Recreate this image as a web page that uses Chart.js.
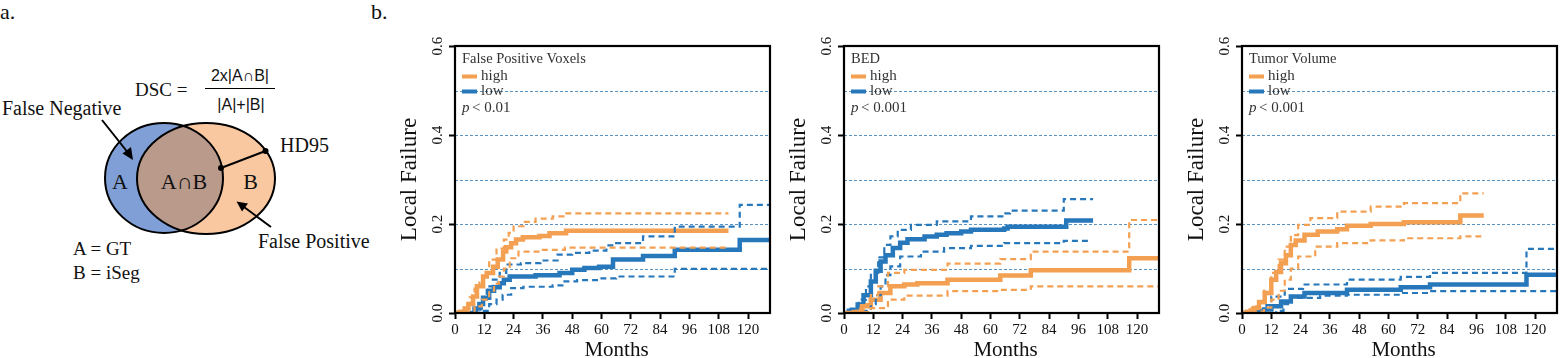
<!DOCTYPE html>
<html>
<head>
<meta charset="utf-8">
<script src="https://cdn.jsdelivr.net/npm/chart.js"></script>
<style>
  html, body { margin: 0; padding: 0; background: #fff; }
  body { width: 1560px; height: 358px; position: relative; overflow: hidden; }
  canvas { position: absolute; top: 0; }
  #venn { position: absolute; left: 0; top: 0; font-family: "Liberation Serif", serif; }
  #venn .sans { font-family: "Liberation Sans", sans-serif; }
  .lbl { position: absolute; font-family: "Liberation Serif", serif; font-size: 22px; color: #111; }
</style>
</head>
<body>
<div class="lbl" style="left:0px; top:-1px;">a.</div>
<div class="lbl" style="left:371px; top:-1px;">b.</div>

<svg id="venn" width="380" height="358" fill="#111">
  <defs>
    <clipPath id="clipA"><ellipse cx="164" cy="178" rx="59" ry="55"/></clipPath>
  </defs>
  <ellipse cx="206" cy="178.5" rx="69" ry="55.5" fill="#f9c8a0"/>
  <ellipse cx="164" cy="178" rx="59" ry="55" fill="#7f9fd6"/>
  <ellipse cx="206" cy="178.5" rx="69" ry="55.5" fill="#b99a8b" clip-path="url(#clipA)"/>
  <ellipse cx="164" cy="178" rx="59" ry="55" fill="none" stroke="#000" stroke-width="2"/>
  <ellipse cx="206" cy="178.5" rx="69" ry="55.5" fill="none" stroke="#000" stroke-width="2"/>
  <line x1="221" y1="168" x2="265.5" y2="151" stroke="#000" stroke-width="2"/>
  <circle cx="221" cy="168" r="3" fill="#000"/>
  <circle cx="265.5" cy="151" r="3" fill="#000"/>
  <line x1="102" y1="120" x2="129" y2="154" stroke="#000" stroke-width="2"/>
  <polygon points="133,160 122.5,153.5 131,147" fill="#000"/>
  <line x1="271" y1="227" x2="242" y2="205.5" stroke="#000" stroke-width="2"/>
  <polygon points="236.5,201.5 248,203.5 242,211.5" fill="#000"/>
  <text x="135" y="96" font-size="19">DSC =</text>
  <text class="sans" x="240" y="81" font-size="16" text-anchor="middle">2x|A∩B|</text>
  <line x1="205" y1="88.5" x2="275" y2="88.5" stroke="#000" stroke-width="1.2"/>
  <text class="sans" x="241" y="110" font-size="16" text-anchor="middle">|A|+|B|</text>
  <text x="2" y="115" font-size="20">False Negative</text>
  <text x="280" y="152" font-size="20">HD95</text>
  <text x="120" y="189" font-size="22" text-anchor="middle">A</text>
  <text x="184" y="189" font-size="22" text-anchor="middle">A∩B</text>
  <text x="250.5" y="189" font-size="22" text-anchor="middle">B</text>
  <text x="258" y="248" font-size="20">False Positive</text>
  <text x="73" y="255" font-size="19">A = GT</text>
  <text x="73" y="279" font-size="19">B = iSeg</text>
</svg>

<canvas id="c1"></canvas>
<canvas id="c2"></canvas>
<canvas id="c3"></canvas>

<script>
// --- Data ---

const MONTH_TICKS = [0, 12, 24, 36, 48, 60, 72, 84, 96, 108, 120];
const Y_TICKS = [0, 0.1, 0.2, 0.3, 0.4, 0.5, 0.6];
const Y_LABELED = [0, 0.2, 0.4, 0.6];
const Y_GRID = [0.1, 0.2, 0.3, 0.4, 0.5];
const GROUPS = ['high', 'low'];
const PANEL_TITLES = ['False Positive Voxels', 'BED', 'Tumor Volume'];
const P_VALUES = ['< 0.01', '< 0.001', '< 0.001'];

// [month, cumulative local failure]
const fpvHigh = [[0,0],[2,0.003],[4,0.01],[5.5,0.02],[7.4,0.037],[9,0.06],[11.5,0.082],[13,0.09],[15.6,0.104],[17.5,0.12],[19.7,0.138],[21,0.148],[23,0.157],[25,0.165],[27.8,0.17],[34.6,0.173],[38.7,0.179],[45.5,0.185],[112,0.185]];
const fpvHighUp = [[0,0],[2,0.006],[4,0.02],[6,0.035],[8,0.055],[10,0.075],[11.5,0.09],[14,0.12],[17,0.145],[20,0.165],[22,0.18],[24,0.195],[28,0.205],[33,0.212],[40,0.217],[45,0.224],[112,0.224]];
const fpvHighLo = [[0,0],[5,0.002],[8,0.015],[11,0.03],[14,0.05],[16,0.066],[18,0.082],[20,0.1],[22.4,0.123],[26,0.138],[35,0.142],[45,0.147],[112,0.147]];
const fpvLow = [[0,0],[8,0.01],[10,0.02],[11.5,0.034],[14,0.05],[16,0.058],[18.3,0.067],[20,0.075],[22.4,0.082],[33,0.085],[42.8,0.09],[48,0.097],[53,0.101],[59,0.104],[64.7,0.12],[77,0.128],[90,0.142],[116.6,0.164],[129,0.164]];
const fpvLowUp = [[0,0],[9,0.01],[11,0.03],[13,0.06],[15.5,0.075],[18.3,0.09],[21,0.109],[27,0.112],[35,0.118],[42,0.131],[48,0.135],[55,0.14],[62,0.152],[66,0.157],[77,0.172],[90,0.194],[116.6,0.243],[129,0.243]];
const fpvLowLo = [[0,0],[10,0.005],[14,0.02],[17,0.03],[19.5,0.041],[23,0.056],[28,0.059],[40,0.062],[44,0.071],[50,0.074],[60,0.078],[66,0.082],[90,0.099],[129,0.101]];

const bedHigh = [[0,0],[4,0.002],[7,0.015],[11,0.03],[15,0.045],[19,0.06],[24.7,0.064],[30,0.067],[42.4,0.075],[64,0.084],[76.5,0.096],[116.8,0.123],[129,0.123]];
const bedHighUp = [[0,0],[5,0.005],[8,0.02],[11,0.04],[14,0.06],[18,0.09],[24.7,0.097],[42.4,0.111],[64,0.121],[76.5,0.138],[116.8,0.209],[129,0.209]];
const bedHighLo = [[0,0],[8,0.002],[11,0.011],[18,0.03],[24.7,0.039],[42.4,0.049],[64,0.052],[76.5,0.06],[129,0.062]];
const bedLow = [[0,0],[2,0.005],[5.6,0.019],[8,0.04],[11,0.071],[13,0.095],[15,0.116],[17,0.13],[20,0.146],[23,0.158],[26,0.166],[33,0.172],[38,0.176],[42,0.179],[48,0.183],[52,0.187],[65.6,0.19],[67,0.194],[91,0.208],[102,0.208]];
const bedLowUp = [[0,0],[2,0.01],[6,0.03],[9,0.06],[11,0.09],[14,0.125],[16.5,0.153],[19,0.172],[22,0.187],[27.4,0.198],[38,0.206],[52,0.217],[65.6,0.224],[68,0.23],[90,0.256],[102,0.256]];
const bedLowLo = [[0,0],[8,0.005],[11,0.02],[13,0.04],[15,0.06],[17,0.085],[19,0.105],[23,0.127],[31.5,0.138],[41,0.146],[52,0.151],[65.6,0.157],[90,0.162],[100,0.162]];

const tvHigh = [[0,0],[2,0.003],[5,0.011],[7,0.025],[9.3,0.045],[12,0.075],[14,0.092],[16,0.112],[18,0.13],[20,0.153],[22,0.163],[25.6,0.176],[31,0.183],[39,0.188],[43,0.196],[52.7,0.2],[66.3,0.204],[89.4,0.219],[99,0.219]];
const tvHighUp = [[0,0],[2,0.008],[4,0.015],[6.6,0.022],[9,0.05],[12,0.09],[15,0.12],[17.5,0.149],[20,0.175],[23,0.198],[28,0.213],[39,0.228],[52.7,0.239],[66.3,0.247],[89.4,0.269],[99,0.269]];
const tvHighLo = [[0,0],[6,0.003],[9,0.012],[12,0.03],[15,0.05],[17.5,0.075],[20,0.1],[23,0.127],[30,0.149],[39,0.157],[52.7,0.163],[66.3,0.168],[89.4,0.172],[98,0.172]];
const tvLow = [[0,0],[5,0.003],[9,0.008],[12,0.015],[16,0.026],[20,0.037],[25.6,0.045],[43,0.052],[65,0.058],[77,0.064],[116.5,0.086],[129,0.086]];
const tvLowUp = [[0,0],[8,0.006],[10,0.018],[12,0.037],[17.5,0.054],[25,0.064],[43,0.075],[65,0.081],[77,0.09],[116.5,0.144],[129,0.144]];
const tvLowLo = [[0,0],[14,0.005],[17,0.02],[20,0.034],[32,0.039],[43,0.041],[65,0.045],[77,0.049],[129,0.046]];

// --- Layout / style ---

const FONT = '"Liberation Serif", "Times New Roman", serif';
const ORANGE = '#f4a052';
const BLUE = '#2777bb';
const GRID_BLUE = '#5a92c0';
const H = 358;
const PLOT_TOP = 46;
const PLOT_BOTTOM = 313;
const AXIS_W = 80;
const X_MAX = 129;

const panels = [
  { id: 'c1', left: 455, right: 770, series: [fpvHighUp, fpvHighLo, fpvLowUp, fpvLowLo, fpvHigh, fpvLow] },
  { id: 'c2', left: 844, right: 1159, series: [bedHighUp, bedHighLo, bedLowUp, bedLowLo, bedHigh, bedLow] },
  { id: 'c3', left: 1242, right: 1557, series: [tvHighUp, tvHighLo, tvLowUp, tvLowLo, tvHigh, tvLow] }
];

function toXY(pairs) {
  return pairs.map(p => ({ x: p[0], y: p[1] }));
}

function makeDatasets(series) {
  const colors = [ORANGE, ORANGE, BLUE, BLUE, ORANGE, BLUE];
  return series.map((s, i) => {
    const solid = i >= 4;
    return {
      data: toXY(s),
      borderColor: colors[i],
      borderWidth: solid ? 4.5 : 2.2,
      borderDash: solid ? [] : [6, 4],
      stepped: true,
      pointRadius: 0,
      fill: false
    };
  });
}

// gridlines, frame, rotated labels and the little legend
const decorPlugin = {
  id: 'decor',
  beforeDatasetsDraw(chart) {
    const { ctx, chartArea: a, scales: { y } } = chart;
    ctx.save();
    ctx.strokeStyle = GRID_BLUE;
    ctx.lineWidth = 1;
    ctx.setLineDash([3, 2]);
    Y_GRID.forEach(v => {
      const py = Math.round(y.getPixelForValue(v)) + 0.5;
      ctx.beginPath();
      ctx.moveTo(a.left, py);
      ctx.lineTo(a.right, py);
      ctx.stroke();
    });
    ctx.restore();
  },
  afterDraw(chart, args, opts) {
    const { ctx, chartArea: a, scales: { y } } = chart;
    ctx.save();
    ctx.strokeStyle = '#000';
    ctx.lineWidth = 2.2;
    ctx.strokeRect(a.left, a.top, a.right - a.left, a.bottom - a.top);

    ctx.fillStyle = '#111';
    // y tick labels, rotated
    ctx.font = '15px ' + FONT;
    ctx.textAlign = 'center';
    ctx.textBaseline = 'middle';
    Y_LABELED.forEach(v => {
      ctx.save();
      ctx.translate(a.left - 17, y.getPixelForValue(v));
      ctx.rotate(-Math.PI / 2);
      ctx.fillText(v.toFixed(1), 0, 0);
      ctx.restore();
    });
    // axis titles
    ctx.save();
    ctx.font = '23px ' + FONT;
    ctx.translate(a.left - 45, (a.top + a.bottom) / 2);
    ctx.rotate(-Math.PI / 2);
    ctx.fillText('Local Failure', 0, 0);
    ctx.restore();
    ctx.font = '21px ' + FONT;
    ctx.fillText('Months', (a.left + a.right) / 2 + 4, 350);

    // legend
    const lx = a.left + 7;
    ctx.textAlign = 'left';
    ctx.fillStyle = '#333';
    ctx.font = '14.5px ' + FONT;
    ctx.fillText(opts.title, lx, 59);
    ctx.font = '15px ' + FONT;
    [ORANGE, BLUE].forEach((c, i) => {
      const ly = 76.5 + i * 15;
      ctx.strokeStyle = c;
      ctx.lineWidth = 4;
      ctx.beginPath();
      ctx.moveTo(lx, ly);
      ctx.lineTo(lx + 15, ly);
      ctx.stroke();
      ctx.fillText(GROUPS[i], lx + 19, ly);
    });
    ctx.font = 'italic 15px ' + FONT;
    ctx.fillText('p', lx, 108);
    ctx.font = '15px ' + FONT;
    ctx.fillText(opts.p, lx + 10, 108);
    ctx.restore();
  }
};

panels.forEach((p, i) => {
  const canvas = document.getElementById(p.id);
  const w = AXIS_W + (p.right - p.left) + 3;
  canvas.width = w;
  canvas.height = H;
  canvas.style.left = (p.left - AXIS_W) + 'px';

  new Chart(canvas, {
    type: 'line',
    data: { datasets: makeDatasets(p.series) },
    plugins: [decorPlugin],
    options: {
      responsive: false,
      animation: false,
      devicePixelRatio: 1,
      layout: { padding: { top: PLOT_TOP, right: 3, left: 0, bottom: 0 } },
      plugins: {
        legend: { display: false },
        tooltip: { enabled: false },
        decor: { title: PANEL_TITLES[i], p: P_VALUES[i] }
      },
      scales: {
        x: {
          type: 'linear',
          min: 0,
          max: X_MAX,
          afterBuildTicks: s => { s.ticks = MONTH_TICKS.map(v => ({ value: v })); },
          afterFit: s => { s.height = H - PLOT_BOTTOM; },
          grid: { drawOnChartArea: false, drawTicks: true, tickLength: 6, tickWidth: 2, tickColor: '#000' },
          border: { display: false },
          ticks: { color: '#111', font: { family: FONT, size: 15 }, padding: 2, maxRotation: 0, autoSkip: false }
        },
        y: {
          type: 'linear',
          min: 0,
          max: 0.6,
          afterBuildTicks: s => { s.ticks = Y_TICKS.map(v => ({ value: v })); },
          afterFit: s => { s.width = AXIS_W; },
          grid: {
            drawOnChartArea: false,
            drawTicks: true,
            tickLength: 6,
            tickWidth: 2,
            tickColor: c => Y_LABELED.some(v => Math.abs(v - c.tick.value) < 1e-6) ? '#000' : 'rgba(0,0,0,0)'
          },
          border: { display: false },
          ticks: { display: false }
        }
      }
    }
  });
});
</script>
</body>
</html>
